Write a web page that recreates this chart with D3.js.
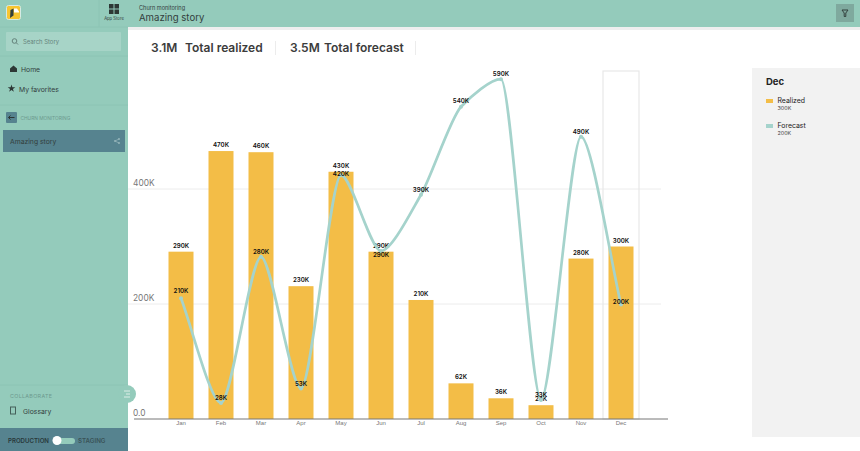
<!DOCTYPE html>
<html lang="en">
<head>
    <meta charset="UTF-8">
    <title>Amazing story</title>
    <script src="https://d3js.org/d3.v7.min.js"></script>
    <style>
        body {
            margin: 0;
            background: #fff;
            overflow: hidden;
        }
        svg {
            display: block;
            font-family: 'Inter', sans-serif;
        }
        .grid line {
            stroke: #ececec;
            stroke-width: 1;
        }
        .y-label {
            font-size: 8.4px;
            fill: #777;
        }
        .axis path,
        .axis line {
            display: none;
        }
        .axis text {
            font-size: 6px;
            fill: #777;
        }
        .value {
            font-size: 6.2px;
            font-weight: 600;
            fill: #111;
            text-anchor: middle;
        }
    </style>
</head>
<body>
    <svg width="860" height="451"></svg>
    <script>
        const svg = d3.select("svg");

        // Values in thousands, labelDy is the forecast label offset above the point
        const data = [
            { month: "Jan", realized: 291, forecast: 210, labelDy: 5 },
            { month: "Feb", realized: 466, forecast: 28, labelDy: 3 },
            { month: "Mar", realized: 464, forecast: 282, labelDy: 3 },
            { month: "Apr", realized: 231, forecast: 53, labelDy: 3 },
            { month: "May", realized: 430, forecast: 424, labelDy: -1 },
            { month: "Jun", realized: 291, forecast: 292, labelDy: -6 },
            { month: "Jul", realized: 207, forecast: 390, labelDy: 3 },
            { month: "Aug", realized: 62, forecast: 543, labelDy: 4 },
            { month: "Sep", realized: 36, forecast: 591, labelDy: 3 },
            { month: "Oct", realized: 24, forecast: 33, labelDy: 3 },
            { month: "Nov", realized: 279, forecast: 491, labelDy: 3 },
            { month: "Dec", realized: 300, forecast: 199, labelDy: 1 }
        ];

        const teal = "#94cbbb";
        const darkTeal = "#56838f";
        const textDark = "#33403d";
        const yellow = "#f3bd47";
        const lineColor = "#a5d3cc";

        // Scales
        const x = d3.scaleBand()
            .domain(data.map(d => d.month))
            .range([161, 641])
            .paddingInner(0.375)
            .paddingOuter(0.1875);

        const y = d3.scaleLinear()
            .domain([0, 600])
            .range([419, 74]);

        // Monotone curve with short handles, so the peaks stay tight
        function tightCurve(context) {
            let pts = [];
            return {
                areaStart() {},
                areaEnd() {},
                lineStart() { pts = []; },
                point(px, py) { pts.push([+px, +py]); },
                lineEnd() {
                    const slopes = d3.pairs(pts, (a, b) => (b[1] - a[1]) / (b[0] - a[0]));
                    const tangent = i => {
                        if (i === 0) return slopes[0];
                        if (i === pts.length - 1) return slopes[i - 1];
                        const s0 = slopes[i - 1], s1 = slopes[i];
                        return s0 * s1 <= 0 ? 0 : 2 * s0 * s1 / (s0 + s1);
                    };
                    context.moveTo(pts[0][0], pts[0][1]);
                    for (let i = 1; i < pts.length; i++) {
                        const a = pts[i - 1], b = pts[i], h = (b[0] - a[0]) * 0.26;
                        context.bezierCurveTo(a[0] + h, a[1] + tangent(i - 1) * h, b[0] - h, b[1] - tangent(i) * h, b[0], b[1]);
                    }
                }
            };
        }

        // Sidebar and header
        svg.append("rect").attr("x", 128).attr("y", 27).attr("width", 732).attr("height", 3).attr("fill", "#eeeeee");
        svg.append("rect").attr("width", 860).attr("height", 27).attr("fill", teal);
        svg.append("rect").attr("width", 128).attr("height", 451).attr("fill", teal);
        svg.append("rect").attr("y", 428).attr("width", 128).attr("height", 23).attr("fill", darkTeal);

        [[0, 27, 128, 27], [0, 56, 128, 56], [0, 105, 128, 105], [0, 385, 128, 385]].forEach(l => {
            svg.append("line").attr("x1", l[0]).attr("y1", l[1]).attr("x2", l[2]).attr("y2", l[3])
                .attr("stroke", "#8cc4b4");
        });
        svg.append("line").attr("x1", 99).attr("y1", 0).attr("x2", 99).attr("y2", 27).attr("stroke", "#8cc4b4");

        // Logo
        svg.append("rect").attr("x", 6.5).attr("y", 5.5).attr("width", 14).attr("height", 14).attr("rx", 2)
            .attr("fill", "#f7c531").attr("stroke", "#d5ebe4");
        svg.append("path").attr("d", "M10 18l0.5-8 3-1.5v7z").attr("fill", "#33403d");
        svg.append("path").attr("d", "M14 8.5h3l2 3v1h-5z").attr("fill", "#ffffff");

        // App store icon
        [[109, 4], [114.5, 4], [109, 9.5], [114.5, 9.5]].forEach(p => {
            svg.append("rect").attr("x", p[0]).attr("y", p[1]).attr("width", 4.5).attr("height", 4.5)
                .attr("fill", "#2d3735");
        });

        function label(txt, px, py, size, opts = {}) {
            return svg.append("text")
                .attr("x", px).attr("y", py)
                .attr("font-size", size)
                .attr("font-weight", opts.weight || 400)
                .attr("fill", opts.fill || textDark)
                .attr("text-anchor", opts.anchor || "start")
                .attr("letter-spacing", opts.spacing || 0)
                .text(txt);
        }

        label("App Store", 114, 20, 4.2, { anchor: "middle" });
        label("Churn monitoring", 139, 10, 5.6);
        label("Amazing story", 139, 21, 9.6);

        // Filter button
        svg.append("rect").attr("x", 836).attr("y", 4).attr("width", 18).attr("height", 18).attr("fill", "#7fa99e");
        svg.append("path").attr("d", "M842 10h6l-2.2 3v3.5h-1.6v-3.5z").attr("fill", "none").attr("stroke", "#33403d").attr("stroke-width", 1);

        // Search box
        svg.append("rect").attr("x", 6).attr("y", 32).attr("width", 115).attr("height", 19).attr("rx", 1).attr("fill", "#a7d4c7");
        svg.append("circle").attr("cx", 14.5).attr("cy", 41).attr("r", 2.3).attr("fill", "none").attr("stroke", "#65827b");
        svg.append("line").attr("x1", 16.3).attr("y1", 42.8).attr("x2", 18).attr("y2", 44.5).attr("stroke", "#65827b");
        label("Search Story", 23, 44, 5.9, { fill: "#65827b" });

        // Nav
        svg.append("path").attr("d", "M10 72v-3.5l3.5-3 3.5 3v3.5z").attr("fill", "#2d3735");
        label("Home", 21, 71.5, 6.8);
        svg.append("path").attr("d", d3.symbol(d3.symbolStar, 18)()).attr("transform", "translate(11.5,88.5)").attr("fill", "#2d3735");
        label("My favorites", 19, 91.5, 6.8);
        svg.append("rect").attr("x", 6).attr("y", 112).attr("width", 11).attr("height", 11).attr("rx", 1).attr("fill", darkTeal);
        svg.append("path").attr("d", "M14.5 117.5h-6m2-2l-2 2 2 2").attr("fill", "none").attr("stroke", "#2d3735");
        label("CHURN MONITORING", 20.5, 119.5, 4.8, { fill: "#6d9a8f" });
        svg.append("rect").attr("x", 3).attr("y", 130).attr("width", 122).attr("height", 22).attr("fill", darkTeal);
        label("Amazing story", 10, 143.5, 6.8);
        svg.append("path").attr("d", "M119 139l-4 2 4 2").attr("fill", "none").attr("stroke", "#93b3b8").attr("stroke-width", 0.8);
        [[119, 139], [115, 141], [119, 143]].forEach(p => {
            svg.append("circle").attr("cx", p[0]).attr("cy", p[1]).attr("r", 1).attr("fill", "#93b3b8");
        });

        // Collapse button
        svg.append("circle").attr("cx", 127).attr("cy", 394).attr("r", 9).attr("fill", teal);
        [[124, 130, 391], [126, 130, 394], [124, 130, 397]].forEach(l => {
            svg.append("line").attr("x1", l[0]).attr("x2", l[1]).attr("y1", l[2]).attr("y2", l[2]).attr("stroke", "#f0f7f4").attr("stroke-width", 0.8);
        });

        label("COLLABORATE", 10, 397.5, 5.4, { fill: "#6d9a8f", spacing: 0.3 });
        svg.append("rect").attr("x", 10.5).attr("y", 407).attr("width", 5).attr("height", 7).attr("fill", "none").attr("stroke", "#45605a");
        label("Glossary", 23, 413.5, 6.8);

        label("PRODUCTION", 8, 442.5, 6.1, { weight: 600, fill: "#28383a" });
        label("STAGING", 78, 442.5, 6.2, { weight: 600, fill: "#3a5358" });
        svg.append("rect").attr("x", 53).attr("y", 438).attr("width", 22).attr("height", 6).attr("rx", 3).attr("fill", teal);
        svg.append("circle").attr("cx", 57).attr("cy", 440.5).attr("r", 4.5).attr("fill", "#ffffff");

        // KPI row
        label("3.1M", 151, 52, 12, { weight: 600, fill: "#3c3c3c" });
        label("Total realized", 185, 52, 12, { weight: 600, fill: "#3c3c3c" });
        label("3.5M", 290, 52, 12, { weight: 600, fill: "#3c3c3c" });
        label("Total forecast", 324, 52, 12, { weight: 600, fill: "#3c3c3c" });
        [275.5, 415.5].forEach(px => {
            svg.append("line").attr("x1", px).attr("x2", px).attr("y1", 41).attr("y2", 55).attr("stroke", "#ececec");
        });

        // Grid lines
        svg.append("g")
            .attr("class", "grid")
            .selectAll("line")
            .data([200, 400])
            .enter().append("line")
            .attr("x1", 128).attr("x2", 661)
            .attr("y1", d => y(d)).attr("y2", d => y(d));

        svg.selectAll(".y-label")
            .data([0, 200, 400])
            .enter().append("text")
            .attr("class", "y-label")
            .attr("x", 133)
            .attr("y", d => y(d) - 3.5)
            .text(d => d === 0 ? "0.0" : d + "K");

        // Highlighted month
        const hi = data[11];
        svg.append("rect")
            .attr("x", x(hi.month) + x.bandwidth() / 2 - 18)
            .attr("y", 71)
            .attr("width", 36)
            .attr("height", y(0) - 71)
            .attr("fill", "none")
            .attr("stroke", "#e8e8e8")
            .attr("stroke-width", 1.2);

        // Bars
        svg.selectAll(".bar")
            .data(data)
            .enter().append("rect")
            .attr("class", "bar")
            .attr("x", d => x(d.month))
            .attr("y", d => y(d.realized))
            .attr("width", x.bandwidth())
            .attr("height", d => y(0) - y(d.realized))
            .attr("fill", yellow);

        // Labels show two significant digits
        const fmt = v => d3.format(".2s")(v * 1000).replace("k", "K");

        // Bar labels sit under the line
        svg.selectAll(".value-bar")
            .data(data)
            .enter().append("text")
            .attr("class", "value value-bar")
            .attr("x", d => x(d.month) + x.bandwidth() / 2)
            .attr("y", d => y(d.realized) - 4)
            .text(d => fmt(d.realized));

        // Forecast line
        const line = d3.line()
            .x(d => x(d.month) + x.bandwidth() / 2)
            .y(d => y(d.forecast))
            .curve(tightCurve);

        svg.append("path")
            .datum(data)
            .attr("d", line)
            .attr("fill", "none")
            .attr("stroke", lineColor)
            .attr("stroke-width", 2.7);

        svg.selectAll(".point")
            .data(data)
            .enter().append("circle")
            .attr("class", "point")
            .attr("cx", d => x(d.month) + x.bandwidth() / 2)
            .attr("cy", d => y(d.forecast))
            .attr("r", 2)
            .attr("fill", lineColor);

        // Baseline
        svg.append("line").attr("x1", 134).attr("x2", 668)
            .attr("y1", y(0)).attr("y2", y(0))
            .attr("stroke", "#777").attr("stroke-width", 1);

        // Month axis
        svg.append("g")
            .attr("class", "axis")
            .attr("transform", `translate(0,${y(0)})`)
            .call(d3.axisBottom(x).tickSize(0).tickPadding(2));

        svg.selectAll(".value-line")
            .data(data)
            .enter().append("text")
            .attr("class", "value value-line")
            .attr("x", d => x(d.month) + x.bandwidth() / 2)
            .attr("y", d => y(d.forecast) - d.labelDy)
            .text(d => fmt(d.forecast));

        // Side legend
        svg.append("rect").attr("x", 752).attr("y", 68).attr("width", 108).attr("height", 369).attr("fill", "#f2f2f2");
        label("Dec", 766, 85, 9.5, { weight: 700, fill: "#222" });
        svg.append("rect").attr("x", 766).attr("y", 99).attr("width", 7).attr("height", 4).attr("fill", yellow);
        label("Realized", 777.5, 103, 6.9, { fill: "#222" });
        label(fmt(hi.realized), 777.5, 110, 5.4, { fill: "#444" });
        svg.append("rect").attr("x", 766).attr("y", 124).attr("width", 7).attr("height", 4).attr("fill", lineColor);
        label("Forecast", 777.5, 128, 6.9, { fill: "#222" });
        label(fmt(hi.forecast), 777.5, 135, 5.4, { fill: "#444" });
    </script>
</body>
</html>
